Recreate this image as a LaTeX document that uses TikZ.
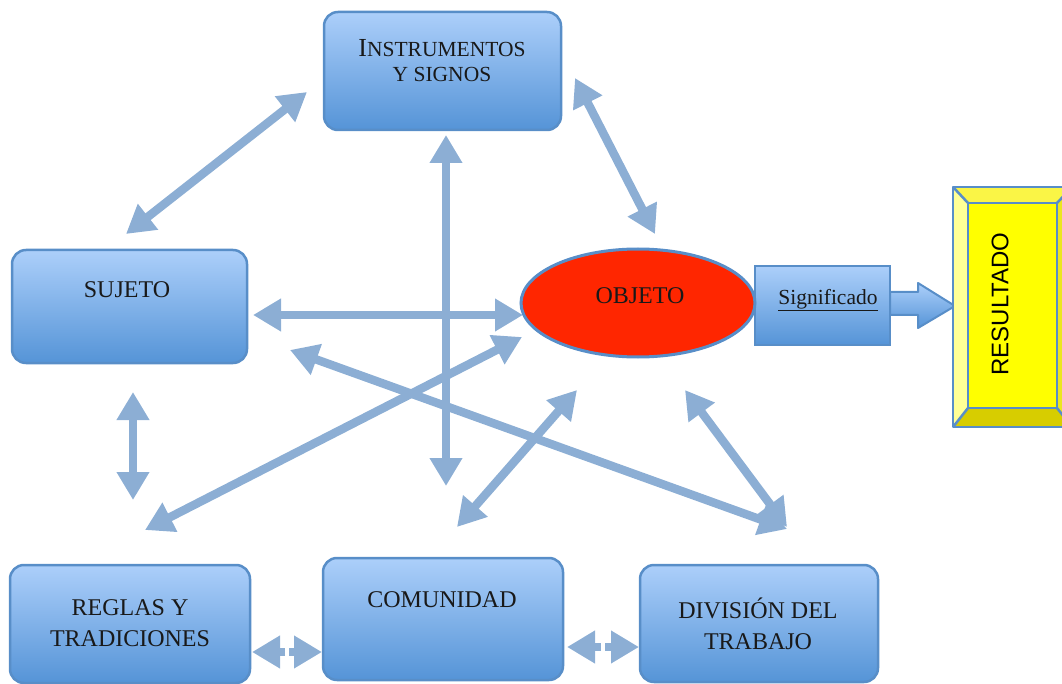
\documentclass[tikz,border=0pt]{standalone}
\usepackage{fontspec}
\setmainfont{Liberation Serif}
\newfontfamily\sansf{Liberation Sans}
\usetikzlibrary{arrows.meta,shapes.geometric}
\definecolor{arrc}{RGB}{140,174,212}
\definecolor{boxtop}{RGB}{172,207,250}
\definecolor{boxbot}{RGB}{85,148,215}
\definecolor{boxline}{RGB}{88,142,200}
\definecolor{objred}{RGB}{255,38,0}
\definecolor{yface}{RGB}{255,255,0}
\definecolor{ytop}{RGB}{250,245,70}
\definecolor{yleft}{RGB}{255,255,150}
\definecolor{ybot}{RGB}{215,205,0}
\definecolor{yright}{RGB}{235,230,30}
\tikzset{
  bx/.style={draw=boxline, line width=2.5pt, rounded corners=14pt, top color=boxtop, bottom color=boxbot, inner sep=0pt},
  lbl/.style={font=\fontsize{24}{31}\selectfont, align=center, text=black!90, inner sep=0pt},
  dar/.style={draw=arrc, line width=8.5pt, {Triangle[length=28pt,width=31pt]}-{Triangle[length=28pt,width=31pt]}},
  sar/.style={draw=arrc, line width=8.5pt, -{Triangle[length=28pt,width=31pt]}},
  bev/.style={draw=boxline, line width=2.5pt, line join=round},
}
\begin{document}
\begin{tikzpicture}[x=1pt,y=-1pt]
\useasboundingbox (0,0) rectangle (1062,684);

% boxes
\node[bx, minimum width=237pt, minimum height=118pt] (ins) at (442.5,71) {};
\node[bx, minimum width=235pt, minimum height=113pt] (suj) at (129.5,306.5) {};
\node[bx, minimum width=240pt, minimum height=118pt] (reg) at (130,624) {};
\node[bx, minimum width=240pt, minimum height=122pt] (com) at (443,619) {};
\node[bx, minimum width=238pt, minimum height=117pt] (div) at (759,623.5) {};
\node[bx, rounded corners=0pt, minimum width=135pt, minimum height=79pt] (sig) at (822.5,305.5) {};
\node[ellipse, draw=boxline, line width=3pt, fill=objred, minimum width=234pt, minimum height=108pt, inner sep=0pt] (obj) at (638,303) {};

% labels
\node[lbl, font=\fontsize{21.5}{25}\selectfont] (tins) at (442,61) {{\fontsize{26}{25}\selectfont I}NSTRUMENTOS\\Y SIGNOS};
\node[lbl] (tsuj) at (127,290) {SUJETO};
\node[lbl] (treg) at (130,623) {REGLAS Y\\TRADICIONES};
\node[lbl] (tcom) at (442,600) {COMUNIDAD};
\node[lbl] (tdiv) at (758,624) {DIVISIÓN DEL\\TRABAJO};
\node[lbl] (tobj) at (640,296) {OBJETO};
\node[lbl, font=\fontsize{21.5}{24}\selectfont] (tsig) at (828,300) {\underline{Significado}};

% block arrow
\path[draw=boxline, line width=2pt, top color=boxtop, bottom color=boxbot, line join=round]
  (890,292) -- (918,292) -- (918,283) -- (955,306) -- (918,328) -- (918,315) -- (890,315) -- cycle;

% RESULTADO bevel box
\fill[yface] (968,203) rectangle (1057,408);
\fill[ytop] (953,187) -- (1072,187) -- (1057,203) -- (968,203) -- cycle;
\fill[yleft] (953,187) -- (968,203) -- (968,408) -- (953,427) -- cycle;
\fill[ybot] (953,427) -- (968,408) -- (1057,408) -- (1072,427) -- cycle;
\fill[yright] (1072,187) -- (1057,203) -- (1057,408) -- (1072,427) -- cycle;
\draw[bev] (953,187) rectangle (1072,427);
\draw[bev] (968,203) rectangle (1057,408);
\draw[bev] (953,187) -- (968,203) (1072,187) -- (1057,203) (953,427) -- (968,408) (1072,427) -- (1057,408);
\node[inner sep=0pt, rotate=90, font=\sansf\fontsize{24}{26}\selectfont] (res) at (1000,304) {RESULTADO};

% arrow end points
\coordinate (a1s) at (307,92);  \coordinate (a1e) at (126,234);
\coordinate (a2s) at (575,78);  \coordinate (a2e) at (655,234);
\coordinate (a3s) at (446,135); \coordinate (a3e) at (446,486);
\coordinate (a4s) at (253,315); \coordinate (a4e) at (523,315);
\coordinate (a5s) at (290,350); \coordinate (a5e) at (787,529);
\coordinate (a6s) at (145,530); \coordinate (a6e) at (522,337);
\coordinate (a7s) at (457,527); \coordinate (a7e) at (577,390);
\coordinate (a8s) at (685,390); \coordinate (a8e) at (787,527);
\coordinate (a9s) at (133,392); \coordinate (a9e) at (133,500);
\coordinate (m10l) at (285,652); \coordinate (m10r) at (289,652);
\coordinate (a10s) at (252,652); \coordinate (a10e) at (322,652);
\coordinate (m11l) at (601,647); \coordinate (m11r) at (605,647);
\coordinate (a11s) at (567,647); \coordinate (a11e) at (639,647);

\draw[dar] (a1s) -- (a1e);
\draw[dar] (a2s) -- (a2e);
\draw[dar] (a3s) -- (a3e);
\draw[dar] (a4s) -- (a4e);
\draw[dar] (a5s) -- (a5e);
\draw[dar] (a6s) -- (a6e);
\draw[dar] (a7s) -- (a7e);
\draw[dar] (a8s) -- (a8e);
\draw[dar] (a9s) -- (a9e);
\draw[sar] (m10l) -- (a10s);
\draw[sar] (m10r) -- (a10e);
\draw[sar] (m11l) -- (a11s);
\draw[sar] (m11r) -- (a11e);
\end{tikzpicture}
\end{document}
